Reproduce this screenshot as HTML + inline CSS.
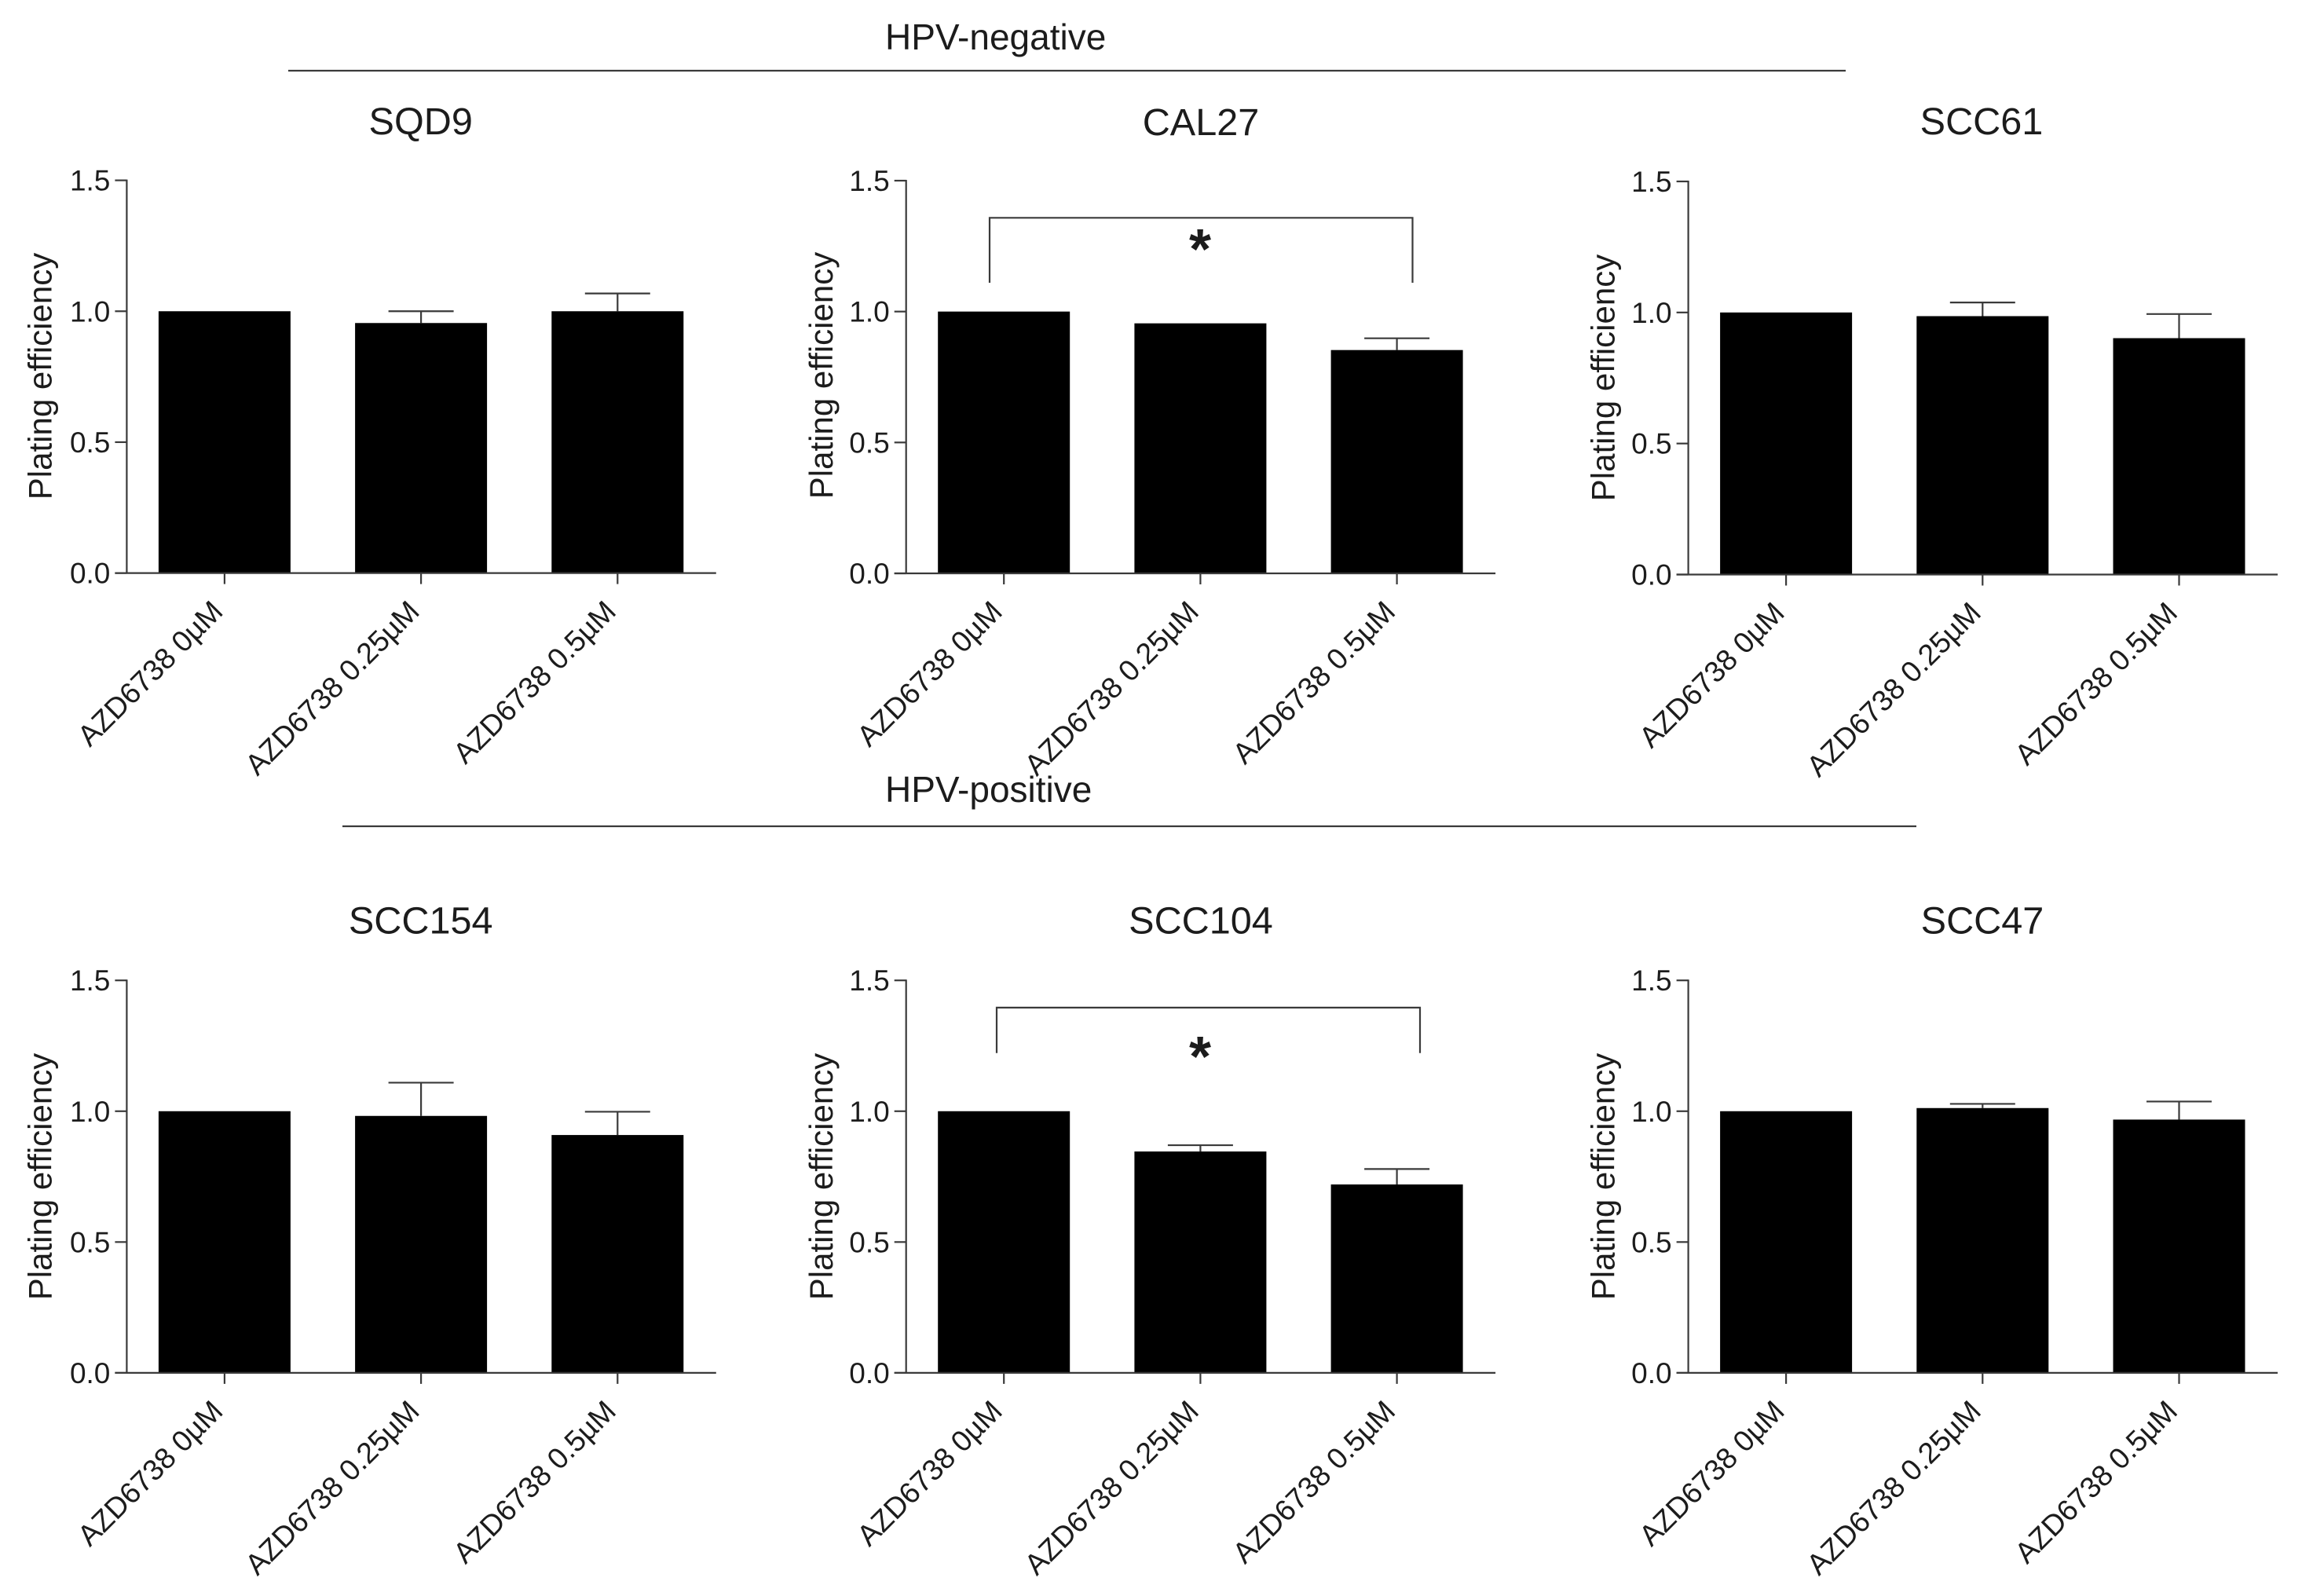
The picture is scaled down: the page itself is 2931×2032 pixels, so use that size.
<!DOCTYPE html>
<html lang="en">
<head>
<meta charset="utf-8">
<title>Plating efficiency by cell line</title>
<style>
html,body{margin:0;padding:0;background:#fff;}
svg{display:block;font-family:"Liberation Sans",Arial,sans-serif;font-variant-ligatures:none;}
text{fill:#1c1c1c;}
</style>
</head>
<body>
<svg id="fig" xmlns="http://www.w3.org/2000/svg" width="2931" height="2032" viewBox="0 0 2931 2032">
  <rect x="0" y="0" width="2931" height="2032" fill="#fff"/>
  <text x="1127" y="63" font-size="46">HPV-negative</text>
  <line x1="367" y1="90" x2="2350" y2="90" stroke="#3a3a3a" stroke-width="2.2"/>
  <text x="1127" y="1021" font-size="46">HPV-positive</text>
  <line x1="436" y1="1052" x2="2440" y2="1052" stroke="#3a3a3a" stroke-width="2.2"/>
</svg>
<script>
// ---- Chart data ----
const categories = ['AZD6738 0µM', 'AZD6738 0.25µM', 'AZD6738 0.5µM'];
const tickValues = [0, 0.5, 1.0, 1.5];
const tickLabels = ['0.0', '0.5', '1.0', '1.5'];
const yAxisTitle = 'Plating efficiency';

const sqd9Means = [1.0, 0.955, 1.0];
const sqd9Errors = [0, 0.045, 0.068];
const cal27Means = [1.0, 0.955, 0.853];
const cal27Errors = [0, 0, 0.045];
const scc61Means = [1.0, 0.986, 0.902];
const scc61Errors = [0, 0.052, 0.092];
const scc154Means = [1.0, 0.982, 0.909];
const scc154Errors = [0, 0.127, 0.089];
const scc104Means = [1.0, 0.846, 0.72];
const scc104Errors = [0, 0.024, 0.059];
const scc47Means = [1.0, 1.012, 0.968];
const scc47Errors = [0, 0.016, 0.069];

// Significance bracket levels, in plating-efficiency units
const cal27Bracket = [1.358, 1.11, 1.29];
const scc104Bracket = [1.396, 1.222, 1.26];

// ---- Panel layout (separate from the data) ----
const panels = [
  {key:'sqd9', title:'SQD9', means:sqd9Means, errors:sqd9Errors, axisX:161.4, top:229.6, base:729.6, titleX:535.7, titleY:171, ytX:65.5, ytY:479},
  {key:'cal27', title:'CAL27', means:cal27Means, errors:cal27Errors, axisX:1153.7, top:230, base:730, titleX:1529, titleY:172, ytX:1060, ytY:478, bracket:cal27Bracket, bl:1260, br:1798.5},
  {key:'scc61', title:'SCC61', means:scc61Means, errors:scc61Errors, axisX:2149.6, top:231, base:731.5, titleX:2523, titleY:171, ytX:2055.5, ytY:481},
  {key:'scc154', title:'SCC154', means:scc154Means, errors:scc154Errors, axisX:161.4, top:1248.2, base:1747.9, titleX:535.7, titleY:1188.5, ytX:65.5, ytY:1498},
  {key:'scc104', title:'SCC104', means:scc104Means, errors:scc104Errors, axisX:1153.7, top:1248.2, base:1747.9, titleX:1529, titleY:1188.5, ytX:1060, ytY:1498, bracket:scc104Bracket, bl:1269, br:1808},
  {key:'scc47', title:'SCC47', means:scc47Means, errors:scc47Errors, axisX:2149.6, top:1248.2, base:1747.9, titleX:2524, titleY:1188.5, ytX:2055.5, ytY:1498}
];

const NS = 'http://www.w3.org/2000/svg';
const INK = '#3a3a3a';
const svg = document.getElementById('fig');

function mk(tag, attrs, parent, txt) {
  const node = document.createElementNS(NS, tag);
  for (const k in attrs) node.setAttribute(k, attrs[k]);
  if (txt !== undefined) node.textContent = txt;
  parent.appendChild(node);
  return node;
}

panels.forEach(function (p) {
  const yMax = tickValues[tickValues.length - 1];
  const yScale = function (v) { return p.base - (v / yMax) * (p.base - p.top); };
  const xScale = function (i) { return p.axisX + 124.5 + i * 250.2; };
  const barWidth = 168;
  const capHalf = 41.5;
  const line = {stroke: INK, 'stroke-width': 2.2};

  const g = mk('g', {}, svg);
  
  

  const title = mk('text', {x: p.titleX, y: p.titleY, 'font-size': 48.6, 'text-anchor': 'middle'}, g, p.title);
  
  

  const yTitle = mk('text', {x: 0, y: 0, 'font-size': 42, 'text-anchor': 'middle', transform: 'translate(' + p.ytX + ' ' + p.ytY + ') rotate(-90)'}, g, yAxisTitle);
  
  

  // error bars sit behind the bars
  p.means.forEach(function (m, i) {
    const e = p.errors[i];
    if (!e) return;
    const cx = xScale(i);
    const stem = mk('line', Object.assign({x1: cx, x2: cx, y1: yScale(m), y2: yScale(m + e)}, line), g);
    
    
    const cap = mk('line', Object.assign({x1: cx - capHalf, x2: cx + capHalf, y1: yScale(m + e), y2: yScale(m + e)}, line), g);
    
    
  });

  p.means.forEach(function (m, i) {
    const bar = mk('rect', {x: xScale(i) - barWidth / 2, y: yScale(m), width: barWidth, height: yScale(0) - yScale(m), fill: '#000'}, g);
    
    
  });

  const yAxis = mk('line', Object.assign({x1: p.axisX, x2: p.axisX, y1: yScale(yMax) - 1, y2: yScale(0)}, line), g);
  
  

  const xAxis = mk('line', Object.assign({x1: p.axisX - 15, x2: xScale(2) + 125.5, y1: yScale(0), y2: yScale(0)}, line), g);
  
  

  tickValues.forEach(function (v, i) {
    const t = mk('line', Object.assign({x1: p.axisX - 15, x2: p.axisX, y1: yScale(v), y2: yScale(v)}, line), g);
    
    
    const lab = mk('text', {x: p.axisX - 21, y: yScale(v) + 13, 'font-size': 37, 'text-anchor': 'end'}, g, tickLabels[i]);
    
    
  });

  categories.forEach(function (c, i) {
    const cx = xScale(i);
    const t = mk('line', Object.assign({x1: cx, x2: cx, y1: yScale(0), y2: yScale(0) + 14}, line), g);
    
    
    const lab = mk('text', {x: 0, y: 0, 'font-size': 37.5, 'text-anchor': 'end', transform: 'translate(' + cx + ' ' + (yScale(0) + 51) + ') rotate(-45)'}, g, c);
    
    
  });

  if (p.bracket) {
    const yTop = yScale(p.bracket[0]);
    const yLeg = yScale(p.bracket[1]);
    const br = mk('polyline', {points: p.bl + ',' + yLeg + ' ' + p.bl + ',' + yTop + ' ' + p.br + ',' + yTop + ' ' + p.br + ',' + yLeg, fill: 'none', stroke: INK, 'stroke-width': 2.2}, g);
    
    
    const star = mk('text', {x: 1528, y: yScale(p.bracket[2]) + 42, 'font-size': 72, 'font-weight': 'bold', 'text-anchor': 'middle'}, g, '*');
    
    
  }
});
</script>
</body>
</html>
